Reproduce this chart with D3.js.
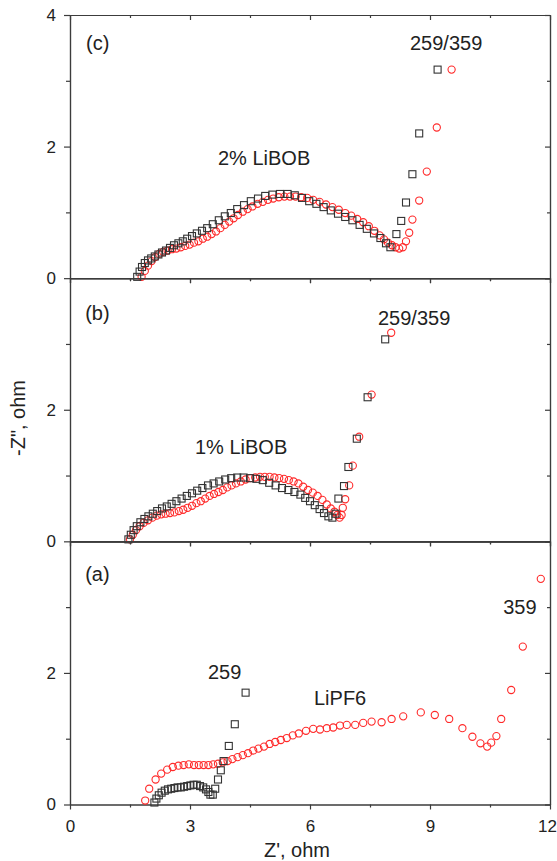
<!DOCTYPE html>
<html>
<head>
<meta charset="utf-8">
<script src="https://cdn.jsdelivr.net/npm/d3@7"></script>
<style>
  body { margin: 0; background: #fff; }
  text { font-family: "Liberation Sans", Arial, sans-serif; fill: #222; }
  .axis path, .axis line { stroke: #3c3c3c; stroke-width: 1.2; }
  .axis text { font-size: 17px; fill: #222; }
</style>
</head>
<body>
<script>
// [Z', -Z''] pairs, ohm

// (c) 2% LiBOB
const c259 = [[1.68,0.02],[1.74,0.10],[1.80,0.17],[1.87,0.23],[1.95,0.27],[2.03,0.30],[2.12,0.33],[2.21,0.36],
  [2.30,0.39],[2.40,0.42],[2.50,0.46],[2.60,0.50],[2.71,0.53],[2.82,0.56],[2.93,0.60],[3.05,0.64],[3.17,0.68],
  [3.30,0.72],[3.43,0.76],[3.57,0.82],[3.72,0.88],[3.87,0.94],[4.02,0.99],[4.18,1.05],[4.35,1.11],[4.52,1.17],
  [4.70,1.21],[4.88,1.25],[5.06,1.27],[5.25,1.28],[5.44,1.28],[5.62,1.26],[5.80,1.22],[5.98,1.17],[6.16,1.13],
  [6.34,1.08],[6.52,1.03],[6.70,0.98],[6.88,0.93],[7.06,0.88],[7.24,0.81],[7.42,0.75],[7.60,0.68],[7.76,0.61],
  [7.90,0.53],[8.01,0.47],[8.16,0.67],[8.28,0.87],[8.40,1.15],[8.56,1.58],[8.73,2.20],[9.19,3.17]];
const c359 = [[1.79,0.02],[1.87,0.11],[1.95,0.19],[2.04,0.26],[2.13,0.32],[2.23,0.37],[2.33,0.40],[2.44,0.42],
  [2.55,0.44],[2.66,0.45],[2.77,0.47],[2.88,0.49],[2.99,0.51],[3.10,0.54],[3.21,0.56],[3.32,0.60],[3.43,0.63],
  [3.54,0.67],[3.65,0.71],[3.76,0.76],[3.87,0.81],[3.98,0.86],[4.09,0.91],[4.20,0.96],[4.32,1.01],[4.44,1.05],
  [4.56,1.09],[4.69,1.13],[4.82,1.16],[4.95,1.19],[5.08,1.21],[5.22,1.23],[5.36,1.24],[5.50,1.24],[5.64,1.24],
  [5.78,1.23],[5.93,1.22],[6.08,1.19],[6.24,1.16],[6.40,1.12],[6.56,1.08],[6.72,1.04],[6.88,0.99],[7.03,0.95],
  [7.18,0.90],[7.33,0.85],[7.47,0.79],[7.61,0.72],[7.74,0.65],[7.85,0.59],[7.95,0.54],[8.05,0.50],[8.14,0.47],
  [8.23,0.45],[8.32,0.47],[8.40,0.56],[8.48,0.69],[8.56,0.89],[8.73,1.18],[8.92,1.62],[9.17,2.29],[9.54,3.17]];

// (b) 1% LiBOB
const b259 = [[1.46,0.03],[1.52,0.10],[1.59,0.17],[1.67,0.23],[1.76,0.29],[1.86,0.34],[1.96,0.38],[2.07,0.42],
  [2.18,0.46],[2.30,0.50],[2.42,0.53],[2.54,0.57],[2.66,0.61],[2.79,0.65],[2.92,0.69],[3.05,0.73],[3.18,0.77],
  [3.31,0.81],[3.45,0.85],[3.59,0.88],[3.73,0.91],[3.88,0.94],[4.03,0.96],[4.18,0.97],[4.34,0.97],[4.50,0.96],
  [4.66,0.95],[4.82,0.93],[4.98,0.89],[5.14,0.85],[5.30,0.81],[5.46,0.78],[5.61,0.75],[5.76,0.71],[5.88,0.66],
  [6.00,0.61],[6.12,0.55],[6.24,0.49],[6.35,0.43],[6.46,0.38],[6.56,0.36],[6.64,0.42],[6.71,0.65],[6.85,0.84],
  [6.96,1.13],[7.17,1.56],[7.44,2.19],[7.88,3.07]];
const b359 = [[1.50,0.03],[1.57,0.10],[1.65,0.17],[1.74,0.23],[1.84,0.28],[1.95,0.32],[2.06,0.36],[2.17,0.39],
  [2.28,0.41],[2.39,0.42],[2.50,0.43],[2.61,0.44],[2.72,0.46],[2.83,0.48],[2.94,0.51],[3.05,0.54],[3.16,0.58],
  [3.27,0.61],[3.38,0.65],[3.49,0.69],[3.60,0.72],[3.71,0.75],[3.82,0.78],[3.93,0.82],[4.04,0.85],[4.15,0.88],
  [4.27,0.91],[4.39,0.94],[4.51,0.96],[4.63,0.97],[4.75,0.98],[4.87,0.98],[4.99,0.98],[5.11,0.97],[5.23,0.96],
  [5.35,0.95],[5.47,0.93],[5.59,0.91],[5.71,0.88],[5.83,0.83],[5.95,0.78],[6.07,0.74],[6.19,0.69],[6.31,0.63],
  [6.42,0.56],[6.52,0.50],[6.61,0.45],[6.68,0.40],[6.74,0.36],[6.79,0.40],[6.82,0.51],[6.88,0.64],[6.98,0.85],
  [7.07,1.15],[7.23,1.59],[7.54,2.23],[8.03,3.17]];

// (a) LiPF6
const a259 = [[2.11,0.03],[2.16,0.09],[2.22,0.14],[2.29,0.18],[2.37,0.21],[2.45,0.23],[2.53,0.24],[2.61,0.25],
  [2.69,0.26],[2.77,0.26],[2.85,0.27],[2.93,0.28],[3.01,0.29],[3.09,0.30],[3.17,0.30],[3.25,0.28],[3.33,0.26],
  [3.40,0.23],[3.46,0.19],[3.51,0.15],[3.57,0.15],[3.63,0.24],[3.70,0.38],[3.77,0.52],[3.84,0.66],[3.97,0.89],
  [4.12,1.22],[4.39,1.70]];
const a359 = [[1.88,0.06],[1.98,0.24],[2.14,0.38],[2.28,0.47],[2.43,0.53],[2.57,0.57],[2.71,0.59],[2.84,0.60],
  [2.97,0.61],[3.10,0.60],[3.22,0.60],[3.34,0.60],[3.46,0.60],[3.58,0.61],[3.70,0.62],[3.82,0.64],[3.94,0.66],
  [4.06,0.69],[4.19,0.72],[4.32,0.75],[4.45,0.78],[4.58,0.82],[4.71,0.85],[4.85,0.88],[4.99,0.92],[5.13,0.95],
  [5.27,0.98],[5.42,1.01],[5.57,1.05],[5.72,1.08],[5.90,1.12],[6.08,1.15],[6.25,1.14],[6.42,1.16],[6.58,1.17],
  [6.75,1.20],[6.92,1.21],[7.13,1.21],[7.33,1.24],[7.54,1.26],[7.79,1.25],[8.04,1.30],[8.33,1.34],[8.77,1.40],
  [9.12,1.36],[9.48,1.30],[9.81,1.16],[10.06,1.03],[10.26,0.93],[10.43,0.88],[10.53,0.94],[10.66,1.04],
  [10.78,1.30],[11.03,1.74],[11.32,2.40],[11.77,3.43]];

const xMajor = [0, 3, 6, 9, 12];
const xMinor = [1.5, 4.5, 7.5, 10.5];
const yMinor = [1, 3];

// text notes: [text, Z', -Z'']
const notesC = [["(c)", 0.4, 3.47], ["2% LiBOB", 3.7, 1.72], ["259/359", 8.5, 3.47]];
const notesB = [["(b)", 0.38, 3.36], ["1% LiBOB", 3.125, 1.32], ["259/359", 7.7, 3.29]];
const notesA = [["(a)", 0.38, 3.40], ["259", 3.45, 1.91], ["LiPF6", 6.1, 1.51], ["359", 10.83, 2.90]];

const W = 557, H = 861;
const margin = { top: 15, left: 70, right: 7, bottom: 56.5 };
const width = W - margin.left - margin.right;
const panelH = (H - margin.top - margin.bottom) / 3;

const svg = d3.select("body").append("svg")
    .attr("width", W)
    .attr("height", H);

let x = d3.scaleLinear().domain([0, 12]).range([margin.left, margin.left + width]);

const panels = [
  { sq: c259, ci: c359, notes: notesC, yTicks: [0, 2, 4] },
  { sq: b259, ci: b359, notes: notesB, yTicks: [0, 2] },
  { sq: a259, ci: a359, notes: notesA, yTicks: [0, 2] }
];

panels.forEach((p, i) => {
  const top = margin.top + i * panelH, bottom = top + panelH;
  const y = d3.scaleLinear().domain([0, 4]).range([bottom, top]);
  const g = svg.append("g");

  // frame + ticks
  g.append("g").attr("class", "axis")
      .attr("transform", "translate(0," + top + ")")
      .call(d3.axisBottom(x).tickValues(xMajor).tickSize(5).tickSizeOuter(0).tickFormat(""));
  g.append("g").attr("class", "axis")
      .attr("transform", "translate(0," + top + ")")
      .call(d3.axisBottom(x).tickValues(xMinor).tickSize(3).tickSizeOuter(0).tickFormat(""));
  const xb = g.append("g").attr("class", "axis")
      .attr("transform", "translate(0," + bottom + ")")
      .call(d3.axisBottom(x).tickValues(xMajor).tickSize(5).tickSizeOuter(0).tickPadding(10)
        .tickFormat(i === 2 ? d3.format("d") : ""));
  // last label sits at the window edge
  xb.selectAll(".tick text").filter(d => d === 12).attr("dx", "-3");
  g.append("g").attr("class", "axis")
      .attr("transform", "translate(0," + bottom + ")")
      .call(d3.axisBottom(x).tickValues(xMinor).tickSize(3).tickSizeOuter(0).tickFormat(""));

  g.append("g").attr("class", "axis")
      .attr("transform", "translate(" + margin.left + ",0)")
      .call(d3.axisLeft(y).tickValues(p.yTicks).tickSize(6).tickSizeOuter(0).tickPadding(8).tickFormat(d3.format("d")));
  g.append("g").attr("class", "axis")
      .attr("transform", "translate(" + margin.left + ",0)")
      .call(d3.axisLeft(y).tickValues(yMinor).tickSize(4).tickSizeOuter(0).tickFormat(""));
  g.append("g").attr("class", "axis")
      .attr("transform", "translate(" + (margin.left + width) + ",0)")
      .call(d3.axisLeft(y).tickValues([0, 2, 4]).tickSize(5).tickSizeOuter(0).tickFormat(""));
  g.append("g").attr("class", "axis")
      .attr("transform", "translate(" + (margin.left + width) + ",0)")
      .call(d3.axisLeft(y).tickValues(yMinor).tickSize(3).tickSizeOuter(0).tickFormat(""));

  // 359 cycles, red circles
  g.append("g").selectAll("circle")
    .data(p.ci)
    .enter().append("circle")
      .attr("cx", d => x(d[0]))
      .attr("cy", d => y(d[1]))
      .attr("r", 3.6)
      .attr("fill", "none")
      .attr("stroke", "#ff2a2a")
      .attr("stroke-width", 1.1);

  // 259 cycles, black squares
  const s = 7;
  g.append("g").selectAll("rect")
    .data(p.sq)
    .enter().append("rect")
      .attr("x", d => x(d[0]) - s / 2)
      .attr("y", d => y(d[1]) - s / 2)
      .attr("width", s)
      .attr("height", s)
      .attr("fill", "none")
      .attr("stroke", "#333")
      .attr("stroke-width", 1.1);

  g.selectAll("text.note")
    .data(p.notes)
    .enter().append("text")
      .attr("class", "note")
      .attr("x", d => x(d[1]))
      .attr("y", d => y(d[2]))
      .style("font-size", "20px")
      .text(d => d[0]);
});

svg.append("text")
    .attr("x", 297)
    .attr("y", 857)
    .attr("text-anchor", "middle")
    .style("font-size", "20px")
    .text("Z', ohm");

svg.append("text")
    .attr("transform", "translate(25,418) rotate(-90)")
    .attr("text-anchor", "middle")
    .style("font-size", "20px")
    .text("-Z\", ohm");
</script>
</body>
</html>
